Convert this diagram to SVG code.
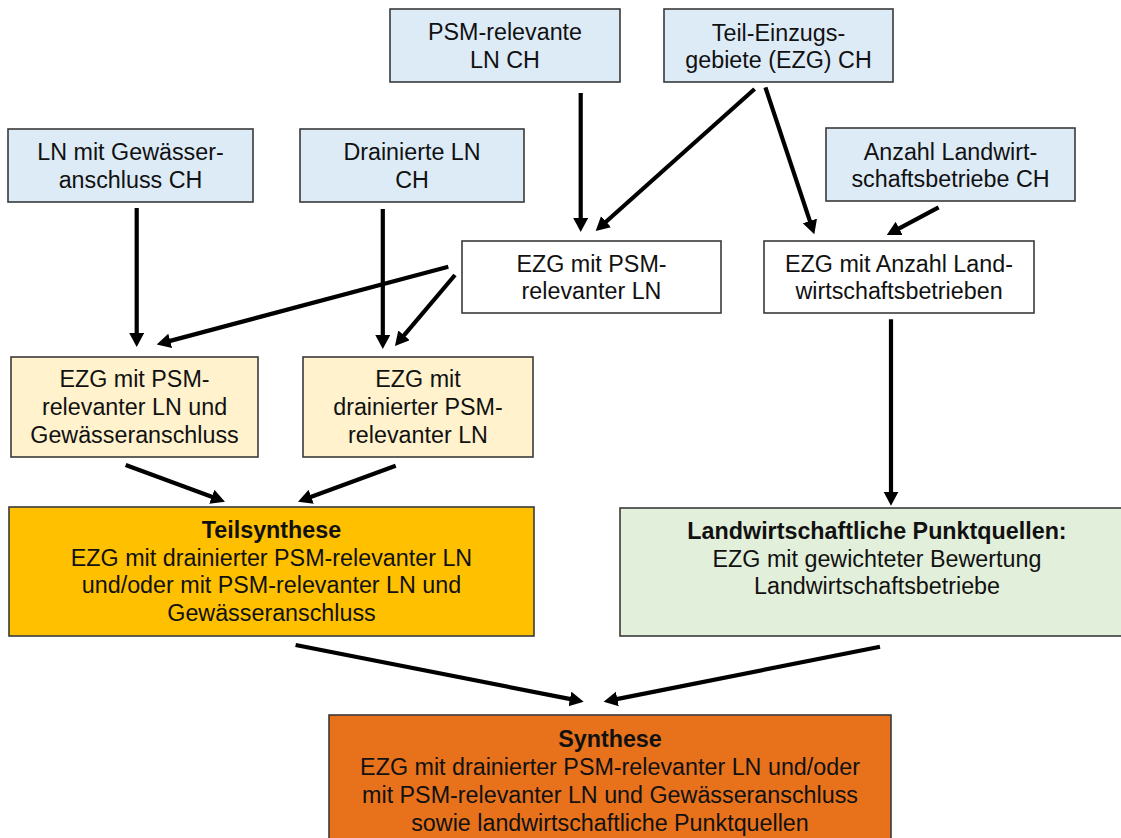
<svg xmlns="http://www.w3.org/2000/svg" width="1121" height="838" viewBox="0 0 1121 838">
<defs>
<style>
.box{stroke:#3a3a3a;stroke-width:1.6}
.blue{fill:#DDEBF7}
.white{fill:#FFFFFF}
.cream{fill:#FFF2CC}
.gold{fill:#FFC000}
.green{fill:#E2EFDA}
.orange{fill:#E8711C}
text{font-family:"Liberation Sans",Arial,sans-serif;font-size:23.3px;fill:#111;text-anchor:middle}
.b{font-weight:bold}
.conn line{stroke:#000;stroke-width:4.2;marker-end:url(#ah)}
</style>
<marker id="ah" markerUnits="userSpaceOnUse" markerWidth="16" markerHeight="16" refX="2" refY="7.5" orient="auto">
<path d="M0,0 L14,7.5 L0,15 z" fill="#000"/>
</marker>
</defs>
<rect width="1121" height="838" fill="#fff"/>
<g id="connectors" class="conn">
<line x1="580.7" y1="93" x2="580.7" y2="220"/>
<line x1="754.6" y1="89" x2="604.6" y2="223"/>
<line x1="765.4" y1="87.3" x2="810.5" y2="222.9"/>
<line x1="938.6" y1="207.3" x2="897.4" y2="229.3"/>
<line x1="136.7" y1="208" x2="136.7" y2="335"/>
<line x1="448.3" y1="266.7" x2="168.3" y2="341.4"/>
<line x1="382.8" y1="209" x2="382.8" y2="337"/>
<line x1="455" y1="275" x2="402.7" y2="336.8"/>
<line x1="125.7" y1="465" x2="213.7" y2="497.5"/>
<line x1="395.7" y1="465.7" x2="309.3" y2="497.5"/>
<line x1="891" y1="319.3" x2="891" y2="493.7"/>
<line x1="295.6" y1="645" x2="571.9" y2="699.4"/>
<line x1="880" y1="646.7" x2="615.4" y2="699.4"/>
</g>
<g id="n_psm"><rect class="box blue" x="390" y="9" width="230" height="73"/><text x="505" y="40">PSM-relevante</text><text x="505" y="68">LN CH</text></g>
<g id="n_teil"><rect class="box blue" x="664" y="9" width="229" height="73"/><text x="778.5" y="41">Teil-Einzugs-</text><text x="778.5" y="68">gebiete (EZG) CH</text></g>
<g id="n_lngew"><rect class="box blue" x="8" y="129" width="245" height="73"/><text x="130.5" y="160">LN mit Gewässer-</text><text x="130.5" y="188">anschluss CH</text></g>
<g id="n_drain"><rect class="box blue" x="300" y="129" width="224" height="73"/><text x="412" y="160">Drainierte LN</text><text x="412" y="188">CH</text></g>
<g id="n_anzahl"><rect class="box blue" x="826" y="128" width="249" height="73"/><text x="950.5" y="160">Anzahl Landwirt-</text><text x="950.5" y="187">schaftsbetriebe CH</text></g>
<g id="n_ezgpsm"><rect class="box white" x="462" y="241" width="259" height="72"/><text x="591.5" y="272">EZG mit PSM-</text><text x="591.5" y="299">relevanter LN</text></g>
<g id="n_ezganz"><rect class="box white" x="764" y="241" width="270" height="72"/><text x="899" y="272">EZG mit Anzahl Land-</text><text x="899" y="299">wirtschaftsbetrieben</text></g>
<g id="n_y1"><rect class="box cream" x="11" y="357" width="247" height="100"/><text x="134.5" y="387">EZG mit PSM-</text><text x="134.5" y="415">relevanter LN und</text><text x="134.5" y="443">Gewässeranschluss</text></g>
<g id="n_y2"><rect class="box cream" x="303" y="357" width="230" height="100"/><text x="418" y="387">EZG mit</text><text x="418" y="415">drainierter PSM-</text><text x="418" y="443">relevanter LN</text></g>
<g id="n_teilsyn"><rect class="box gold" x="9" y="507" width="525" height="129"/><text class="b" x="271.5" y="538">Teilsynthese</text><text x="271.5" y="566">EZG mit drainierter PSM-relevanter LN</text><text x="271.5" y="593">und/oder mit PSM-relevanter LN und</text><text x="271.5" y="621">Gewässeranschluss</text></g>
<g id="n_green"><rect class="box green" x="620" y="508" width="520" height="128"/><text class="b" x="877" y="539">Landwirtschaftliche Punktquellen:</text><text x="877" y="567">EZG mit gewichteter Bewertung</text><text x="877" y="594">Landwirtschaftsbetriebe</text></g>
<g id="n_syn"><rect class="box orange" x="329" y="715" width="562" height="130"/><text class="b" x="610" y="747">Synthese</text><text x="610" y="775">EZG mit drainierter PSM-relevanter LN und/oder</text><text x="610" y="803">mit PSM-relevanter LN und Gewässeranschluss</text><text x="610" y="831">sowie landwirtschaftliche Punktquellen</text></g>
</svg>
